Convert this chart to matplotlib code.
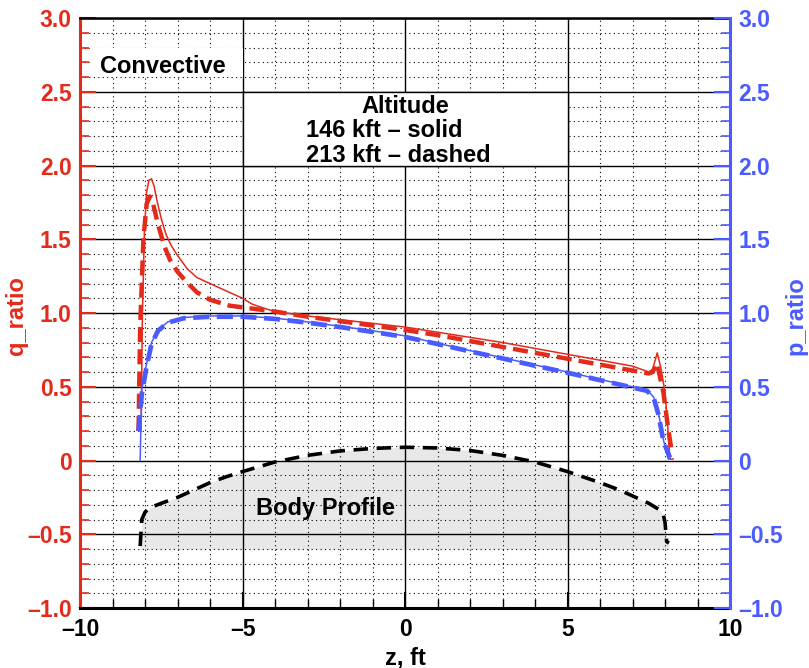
import matplotlib
matplotlib.use("Agg")
import matplotlib.pyplot as plt
from matplotlib.patches import Rectangle
from matplotlib.ticker import MultipleLocator, FuncFormatter

plt.rcParams['font.family'] = ['Liberation Sans', 'DejaVu Sans']
plt.rcParams['font.weight'] = 'bold'

RED = '#E32A1B'
BLUE = '#4A5BFF'

# q_ratio, 146 kft (solid)
z_q146 = [-8.12, -8.08, -8.02, -7.95, -7.88, -7.80, -7.72, -7.62, -7.50, -7.35, -7.20,
          -7.00, -6.70, -6.40, -6.00, -5.70, -5.40, -5.00, -4.70, -4.30, -4.00, -3.00,
          -2.00, -1.00, 0.00, 1.00, 2.00, 3.00, 4.00, 5.00, 6.00, 7.00, 7.50, 7.62,
          7.76, 7.88, 8.00, 8.08, 8.15, 8.25]
q146 = [0.20, 1.00, 1.55, 1.82, 1.90, 1.91, 1.86, 1.75, 1.64, 1.53, 1.46,
        1.39, 1.30, 1.24, 1.20, 1.17, 1.14, 1.10, 1.06, 1.03, 1.01, 0.98,
        0.955, 0.93, 0.905, 0.87, 0.835, 0.80, 0.76, 0.72, 0.68, 0.64, 0.60, 0.62,
        0.73, 0.62, 0.46, 0.24, 0.01, 0.01]

# q_ratio, 213 kft (dashed)
z_q213 = [-8.20, -8.15, -8.05, -7.95, -7.85, -7.75, -7.60, -7.40, -7.23, -7.00, -6.72,
          -6.40, -6.00, -5.40, -4.70, -4.00, -3.00, -2.00, -1.00, 0.00, 1.00, 2.00,
          3.00, 4.00, 5.00, 6.00, 7.00, 7.50, 7.62, 7.75, 7.95, 8.10, 8.20]
q213 = [0.20, 0.90, 1.50, 1.74, 1.79, 1.74, 1.60, 1.45, 1.36, 1.28, 1.21,
        1.14, 1.09, 1.05, 1.03, 1.01, 0.975, 0.945, 0.915, 0.885, 0.85, 0.81,
        0.77, 0.73, 0.69, 0.65, 0.61, 0.59, 0.60, 0.66, 0.46, 0.21, 0.07]

# p_ratio, 146 kft (solid)
z_p146 = [-8.15, -8.10, -7.95, -7.80, -7.60, -7.30, -6.80, -6.00, -5.00, -4.00, -3.00,
          -2.00, -1.00, 0.00, 1.00, 2.00, 3.00, 4.00, 5.00, 6.00, 7.00, 7.45, 7.65,
          7.80, 7.95, 8.10, 8.15]
p146 = [0.00, 0.48, 0.66, 0.80, 0.885, 0.94, 0.97, 0.98, 0.98, 0.965, 0.94,
        0.91, 0.88, 0.845, 0.795, 0.745, 0.697, 0.648, 0.60, 0.55, 0.50, 0.478, 0.43,
        0.32, 0.14, 0.01, 0.01]

# p_ratio, 213 kft (dashed)
z_p213 = [-8.20, -8.10, -7.95, -7.80, -7.60, -7.30, -6.80, -6.00, -5.00, -4.00, -3.00,
          -2.00, -1.00, 0.00, 1.00, 2.00, 3.00, 4.00, 5.00, 6.00, 7.00, 7.45, 7.65,
          7.80, 7.95, 8.15]
p213 = [0.20, 0.45, 0.64, 0.79, 0.88, 0.935, 0.965, 0.975, 0.975, 0.96, 0.935,
        0.905, 0.872, 0.838, 0.79, 0.74, 0.692, 0.643, 0.595, 0.545, 0.495, 0.472, 0.425,
        0.31, 0.13, 0.02]

# body profile
z_body = [-8.15, -8.10, -8.00, -7.85, -7.50, -7.00, -6.50, -6.00, -5.50, -5.00, -4.00,
          -3.00, -2.00, -1.00, 0.00, 1.00, 2.00, 3.00, 4.00, 5.00, 6.00, 6.60, 7.00,
          7.50, 7.80, 7.95, 8.00, 8.05, 8.12]
y_body = [-0.58, -0.40, -0.35, -0.32, -0.29, -0.25, -0.20, -0.15, -0.11, -0.075, -0.01,
          0.035, 0.065, 0.082, 0.09, 0.085, 0.068, 0.035, -0.01, -0.075, -0.15, -0.20, -0.24,
          -0.29, -0.33, -0.37, -0.42, -0.55, -0.56]


def ratio_fmt(v, pos):
    if abs(v) < 1e-9:
        return '0'
    return ('%.1f' % v).replace('-', '\u2013')


fig = plt.figure(figsize=(8.09, 6.68), dpi=100)
ax = fig.add_axes([0.0989, 0.0898, 0.8035, 0.8832])
ax2 = ax.twinx()

ax.set_xlim(-10, 10)
ax.set_ylim(-1, 3)
ax2.set_ylim(-1, 3)

ax.xaxis.set_major_locator(MultipleLocator(5))
ax.xaxis.set_minor_locator(MultipleLocator(1))
ax.xaxis.set_major_formatter(FuncFormatter(lambda v, p: ('%d' % v).replace('-', '\u2013')))
for a in (ax, ax2):
    a.yaxis.set_major_locator(MultipleLocator(0.5))
    a.yaxis.set_minor_locator(MultipleLocator(0.1))
    a.yaxis.set_major_formatter(FuncFormatter(ratio_fmt))

ax.grid(which='major', color='black', lw=1.0, ls='-')
ax.grid(which='minor', color='black', lw=0.8, ls=(0, (1, 3)))

# body profile
ax.fill_between(z_body, y_body, -0.6, color='#E8E8E8', lw=0, zorder=1)
ax.plot(z_body, y_body, color='black', lw=2.6, ls=(0, (4, 2.4)), zorder=3)

ax.plot(z_q213, q213, color=RED, lw=3.2, ls=(0, (3.4, 1.6)), zorder=4)
ax.plot(z_q146, q146, color=RED, lw=1.1, zorder=5)
ax2.plot(z_p213, p213, color=BLUE, lw=3.4, ls=(0, (3.4, 1.6)), zorder=4)
ax2.plot(z_p146, p146, color=BLUE, lw=1.1, zorder=5)

# annotation boxes
ax.add_patch(Rectangle((-5, 2.0), 10, 0.5, facecolor='white', edgecolor='black', lw=1.0, zorder=2))
ax.add_patch(Rectangle((-9.7, 2.6), 4.7, 0.2, facecolor='white', edgecolor='none', zorder=2))
ax.text(-9.38, 2.63, 'Convective', fontsize=17, fontweight='bold', zorder=6)
ax.text(0.0, 2.355, 'Altitude', fontsize=17, fontweight='bold', ha='center', zorder=6)
ax.text(-3.05, 2.195, '146 kft \u2013 solid', fontsize=17, fontweight='bold', zorder=6)
ax.text(-3.05, 2.025, '213 kft \u2013 dashed', fontsize=17, fontweight='bold', zorder=6)
ax.text(-4.6, -0.37, 'Body Profile', fontsize=17, fontweight='bold', zorder=6)

# spines and ticks
ax.spines['left'].set_color(RED)
ax.spines['left'].set_linewidth(2.2)
ax.spines['bottom'].set_linewidth(2.2)
ax.spines['top'].set_linewidth(1.8)
ax.spines['right'].set_visible(False)
ax2.spines['right'].set_color(BLUE)
ax2.spines['right'].set_linewidth(2.2)
for s in ('left', 'top', 'bottom'):
    ax2.spines[s].set_visible(False)

ax.tick_params(axis='y', which='major', direction='in', length=11.5, width=1.5,
               color=RED, labelcolor=RED, labelsize=16.5, pad=6)
ax.tick_params(axis='y', which='minor', direction='in', length=6.5, width=1.2, color=RED)
ax.tick_params(axis='x', which='major', direction='in', length=11.5, width=1.5,
               color='black', labelsize=16.5, pad=7)
ax.tick_params(axis='x', which='minor', direction='in', length=6.5, width=1.0, color='black')
ax2.tick_params(axis='y', which='major', direction='in', length=11.5, width=1.5,
                color=BLUE, labelcolor=BLUE, labelsize=16.5, pad=6)
ax2.tick_params(axis='y', which='minor', direction='in', length=6.5, width=1.2, color=BLUE)

ax.set_xlabel('z, ft', fontsize=17, fontweight='bold', labelpad=4)
ax.set_ylabel('q_ratio', fontsize=17, fontweight='bold', color=RED)
ax2.set_ylabel('p_ratio', fontsize=17, fontweight='bold', color=BLUE)
ax.yaxis.set_label_coords(-0.080, 0.495)
ax2.yaxis.set_label_coords(1.084, 0.495)

fig.savefig('out.png', dpi=100)
